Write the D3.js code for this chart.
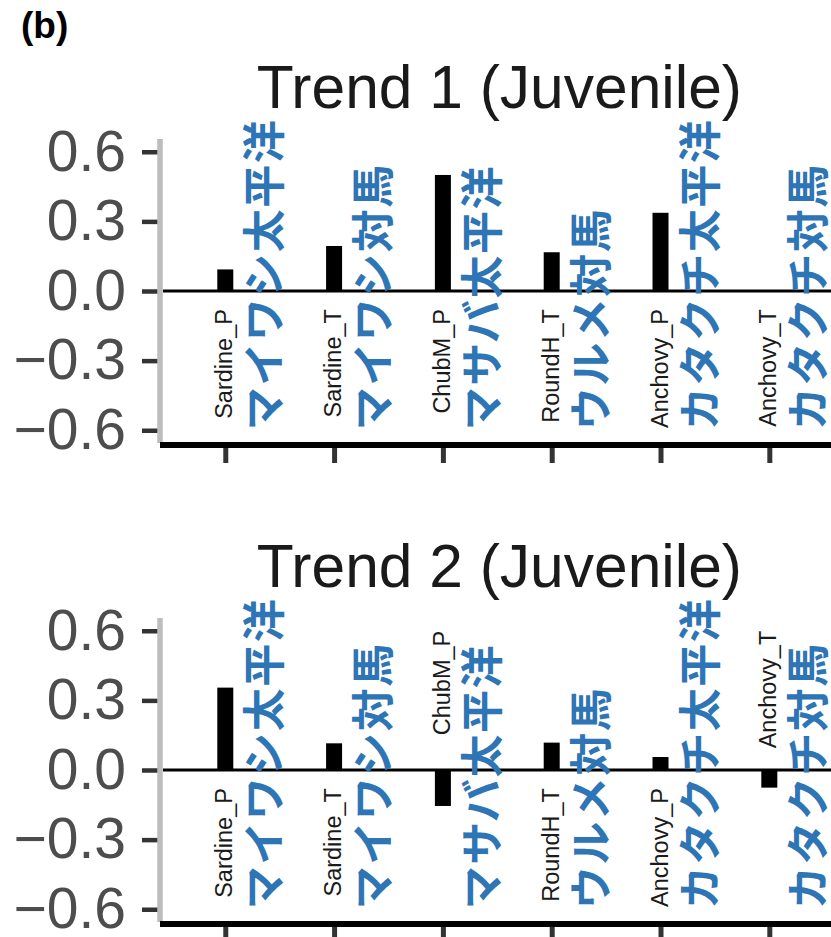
<!DOCTYPE html>
<html><head><meta charset="utf-8">
<script src="https://cdn.jsdelivr.net/npm/d3@7"></script>
<style>body{margin:0;background:#fff} svg{display:block}</style>
</head><body>
<script>
// ---- data ----
const categories = ["Sardine_P", "Sardine_T", "ChubM_P", "RoundH_T", "Anchovy_P", "Anchovy_T"];
const jpLabels = ["マイワシ太平洋", "マイワシ対馬", "マサバ太平洋", "ウルメ対馬", "カタクチ太平洋", "カタクチ対馬"];
const trend1 = [0.093, 0.194, 0.50, 0.167, 0.337, 0.0];
const trend2 = [0.355, 0.115, -0.155, 0.118, 0.056, -0.076];
const titles = ["Trend 1 (Juvenile)", "Trend 2 (Juvenile)"];
const yTicks = [-0.6, -0.3, 0.0, 0.3, 0.6];
const panelLabel = "(b)";

// ---- layout ----
const W = 831, H = 937;
const left = 160, right = 834.6, panelH = 304;
const panelTops = [139, 618];

const svg = d3.select("body").append("svg")
  .attr("width", W).attr("height", H)
  .style("font-family", "'Liberation Sans', Arial, Helvetica, sans-serif");

svg.append("text").attr("x", 21).attr("y", 38)
  .attr("font-size", 37).attr("font-weight", "bold").attr("fill", "#000")
  .text(panelLabel);

const x = d3.scalePoint().domain(categories).range([left, right]).padding(0.6);
const series = [trend1, trend2];

series.forEach((vals, i) => {
  const top = panelTops[i], bottom = top + panelH;
  const y = d3.scaleLinear().domain([-0.655, 0.655]).range([bottom, top]);
  const g = svg.append("g");
  const data = categories.map((c, j) => ({ c, v: vals[j], jp: jpLabels[j] }));

  // title
  g.append("text")
    .attr("x", (left + right) / 2 + 2).attr("y", y(0) - 183)
    .attr("text-anchor", "middle").attr("font-size", 60.5).attr("fill", "#1a1a1a")
    .text(titles[i]);

  // y axis
  const ya = g.append("g").attr("transform", `translate(${left},0)`)
    .call(d3.axisLeft(y).tickValues(yTicks).tickSize(18).tickPadding(16)
      .tickFormat(d3.format(".1f")));
  ya.select(".domain").remove();
  ya.selectAll(".tick line").attr("stroke", "#333").attr("stroke-width", 4.5);
  ya.selectAll(".tick text").attr("font-size", 57).attr("fill", "#4d4d4d")
    .attr("font-family", "'Liberation Sans', Arial, sans-serif");

  // x axis ticks
  const xa = g.append("g").attr("transform", `translate(0,${bottom + 5})`)
    .call(d3.axisBottom(x).tickSize(15).tickSizeOuter(0).tickFormat(""));
  xa.select(".domain").remove();
  xa.selectAll(".tick line").attr("stroke", "#333").attr("stroke-width", 5);

  // grey y-axis line
  g.append("line").attr("x1", left).attr("x2", left)
    .attr("y1", top).attr("y2", bottom)
    .attr("stroke", "#bdbdbd").attr("stroke-width", 5.5);

  // bottom axis line
  g.append("line").attr("x1", left).attr("x2", right + 5)
    .attr("y1", bottom + 2).attr("y2", bottom + 2)
    .attr("stroke", "#000").attr("stroke-width", 6);

  // zero line
  g.append("line").attr("x1", left + 3).attr("x2", right + 5)
    .attr("y1", y(0)).attr("y2", y(0))
    .attr("stroke", "#000").attr("stroke-width", 3);

  // bars
  g.selectAll("rect.bar").data(data).enter().append("rect")
    .attr("class", "bar")
    .attr("x", d => x(d.c) - 8).attr("width", 16)
    .attr("y", d => y(Math.max(0, d.v)))
    .attr("height", d => Math.abs(y(d.v) - y(0)))
    .attr("fill", "#000");

  // category labels
  g.selectAll("text.cat").data(data).enter().append("text")
    .attr("class", "cat")
    .attr("transform", d => `translate(${x(d.c) + 7},${d.v < 0 ? y(0.6) : y(-0.078)}) rotate(-90)`)
    .attr("text-anchor", "end").attr("font-size", 23.5).attr("fill", "#1a1a1a")
    .text(d => d.c);

  // Japanese labels
  g.selectAll("text.jp").data(data).enter().append("text")
    .attr("class", "jp")
    .attr("transform", d => `translate(${x(d.c) + 36},${y(-0.6)}) rotate(-90)`)
    .attr("text-anchor", "start").attr("dominant-baseline", "central")
    .attr("font-family", "'Noto Sans CJK JP', sans-serif")
    .attr("font-weight", "bold").attr("font-size", 43).attr("letter-spacing", 1.5)
    .attr("fill", "#2e75b6")
    .text(d => d.jp);
});
</script>
</body></html>
